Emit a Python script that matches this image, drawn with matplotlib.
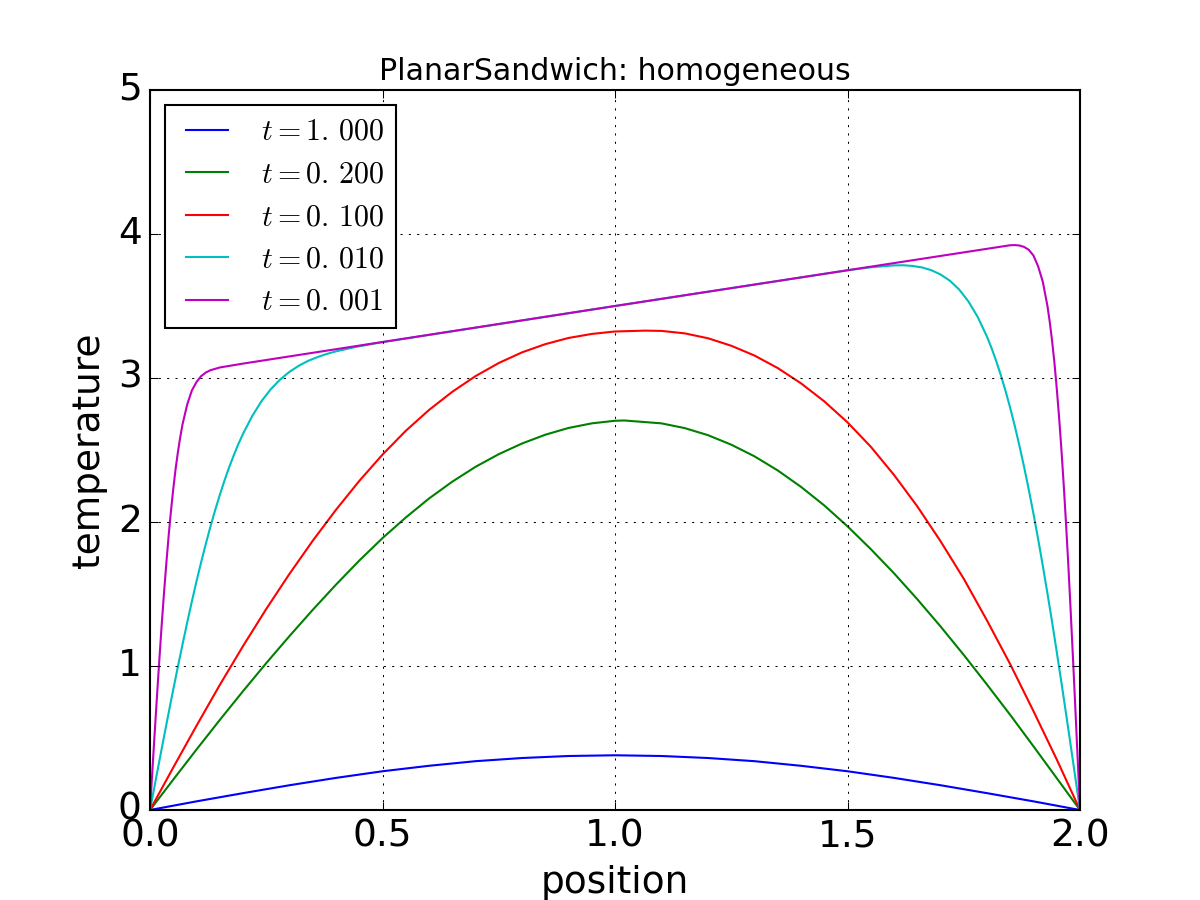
import matplotlib

matplotlib.use("Agg")

import matplotlib.pyplot as plt

plt.style.use("classic")

# values (position -> temperature)
x_t1000 = [0.0, 0.1, 0.2, 0.3, 0.4, 0.5, 0.6, 0.7, 0.8, 0.9, 1.0,
           1.1, 1.2, 1.3, 1.4, 1.5, 1.6, 1.7, 1.8, 1.9, 2.0]
y_t1000 = [0.0, 0.060, 0.117, 0.172, 0.223, 0.269, 0.307, 0.339, 0.361, 0.375, 0.380,
           0.375, 0.361, 0.339, 0.307, 0.269, 0.223, 0.172, 0.117, 0.060, 0.0]

x_t0200 = [0.0, 0.05, 0.1, 0.15, 0.2, 0.25, 0.3, 0.35, 0.4, 0.45, 0.5, 0.55, 0.6, 0.65,
           0.7, 0.75, 0.8, 0.85, 0.9, 0.95, 1.0, 1.02, 1.1, 1.15, 1.2, 1.25, 1.3, 1.35,
           1.4, 1.45, 1.5, 1.55, 1.6, 1.65, 1.7, 1.75, 1.8, 1.85, 1.9, 1.95, 2.0]
y_t0200 = [0.0, 0.211, 0.42, 0.625, 0.825, 1.02, 1.208, 1.39, 1.565, 1.732, 1.888, 2.031,
           2.163, 2.28, 2.383, 2.471, 2.545, 2.606, 2.653, 2.685, 2.703, 2.705, 2.685,
           2.652, 2.603, 2.537, 2.456, 2.358, 2.244, 2.115, 1.97, 1.812, 1.644, 1.464,
           1.275, 1.077, 0.871, 0.66, 0.442, 0.221, 0.0]

x_t0100 = [0.0, 0.05, 0.1, 0.15, 0.2, 0.25, 0.3, 0.35, 0.4, 0.45, 0.5, 0.55, 0.6, 0.65,
           0.7, 0.75, 0.8, 0.85, 0.9, 0.95, 1.0, 1.065, 1.1, 1.15, 1.2, 1.25, 1.3, 1.35,
           1.4, 1.45, 1.5, 1.55, 1.6, 1.65, 1.7, 1.75, 1.8, 1.85, 1.9, 1.95, 2.0]
y_t0100 = [0.0, 0.295, 0.585, 0.868, 1.138, 1.396, 1.64, 1.87, 2.085, 2.285, 2.468, 2.633,
           2.778, 2.904, 3.013, 3.104, 3.178, 3.235, 3.278, 3.306, 3.323, 3.329, 3.327,
           3.31, 3.276, 3.224, 3.156, 3.069, 2.963, 2.838, 2.692, 2.523, 2.327, 2.109,
           1.867, 1.606, 1.316, 1.012, 0.686, 0.351, 0.0]

x_t0010 = [0.0, 0.01, 0.02, 0.03, 0.04, 0.05, 0.06, 0.07, 0.08, 0.09, 0.10, 0.11, 0.12,
           0.13, 0.14, 0.15, 0.16, 0.17, 0.18, 0.19, 0.20, 0.22, 0.24, 0.26, 0.28, 0.30,
           0.32, 0.34, 0.36, 0.38, 0.40, 0.44, 0.48, 0.50, 1.0, 1.5, 1.55, 1.6, 1.62,
           1.64, 1.66, 1.68, 1.70, 1.72, 1.74, 1.76, 1.78, 1.80, 1.81, 1.82, 1.83, 1.84,
           1.85, 1.86, 1.87, 1.88, 1.89, 1.90, 1.91, 1.92, 1.93, 1.94, 1.95, 1.96, 1.97,
           1.98, 1.99, 2.0]
y_t0010 = [0.0, 0.169, 0.339, 0.507, 0.673, 0.836, 0.996, 1.151, 1.302, 1.448, 1.588,
           1.721, 1.848, 1.968, 2.081, 2.187, 2.286, 2.378, 2.462, 2.541, 2.612, 2.737,
           2.84, 2.923, 2.99, 3.043, 3.085, 3.119, 3.145, 3.167, 3.185, 3.214, 3.238,
           3.249, 3.5, 3.748, 3.769, 3.782, 3.783, 3.778, 3.768, 3.749, 3.719, 3.676,
           3.615, 3.532, 3.424, 3.287, 3.206, 3.116, 3.017, 2.909, 2.791, 2.664, 2.526,
           2.379, 2.222, 2.056, 1.881, 1.696, 1.504, 1.305, 1.098, 0.886, 0.669, 0.449,
           0.225, 0.0]

x_t0001 = [0.0, 0.005, 0.01, 0.015, 0.02, 0.025, 0.03, 0.035, 0.04, 0.045, 0.05, 0.055,
           0.06, 0.065, 0.07, 0.08, 0.09, 0.10, 0.11, 0.12, 0.13, 0.15, 0.20, 1.0, 1.85,
           1.86, 1.87, 1.88, 1.89, 1.90, 1.91, 1.92, 1.93, 1.935, 1.94, 1.945, 1.95,
           1.955, 1.96, 1.965, 1.97, 1.975, 1.98, 1.985, 1.99, 1.995, 2.0]
y_t0001 = [0.0, 0.267, 0.532, 0.79, 1.039, 1.279, 1.502, 1.708, 1.901, 2.074, 2.228,
           2.367, 2.485, 2.589, 2.679, 2.816, 2.913, 2.972, 3.013, 3.038, 3.054, 3.073,
           3.1, 3.5, 3.922, 3.923, 3.92, 3.91, 3.89, 3.85, 3.775, 3.668, 3.5, 3.388,
           3.257, 3.107, 2.928, 2.729, 2.505, 2.258, 1.987, 1.694, 1.377, 1.048, 0.706,
           0.356, 0.0]

series = [
    (x_t1000, y_t1000, "b", r"$t=1.\,000$"),
    (x_t0200, y_t0200, "g", r"$t=0.\,200$"),
    (x_t0100, y_t0100, "r", r"$t=0.\,100$"),
    (x_t0010, y_t0010, "c", r"$t=0.\,010$"),
    (x_t0001, y_t0001, "m", r"$t=0.\,001$"),
]

fig, ax = plt.subplots(figsize=(8, 6))
for xs, ys, color, label in series:
    ax.plot(xs, ys, color=color, label=label)

ax.set_xlim(0.0, 2.0)
ax.set_ylim(0, 5)
ax.set_xticks([0.0, 0.5, 1.0, 1.5, 2.0])
ax.set_yticks([0, 1, 2, 3, 4, 5])
ax.tick_params(labelsize=18)
ax.set_xlabel("position", fontsize=18)
ax.set_ylabel("temperature", fontsize=18)
ax.set_title("PlanarSandwich: homogeneous", fontsize=14.4)
ax.grid(True)
ax.legend(loc="upper left", fontsize=14.4, labelspacing=0.45)

fig.savefig("out.png", dpi=150)
